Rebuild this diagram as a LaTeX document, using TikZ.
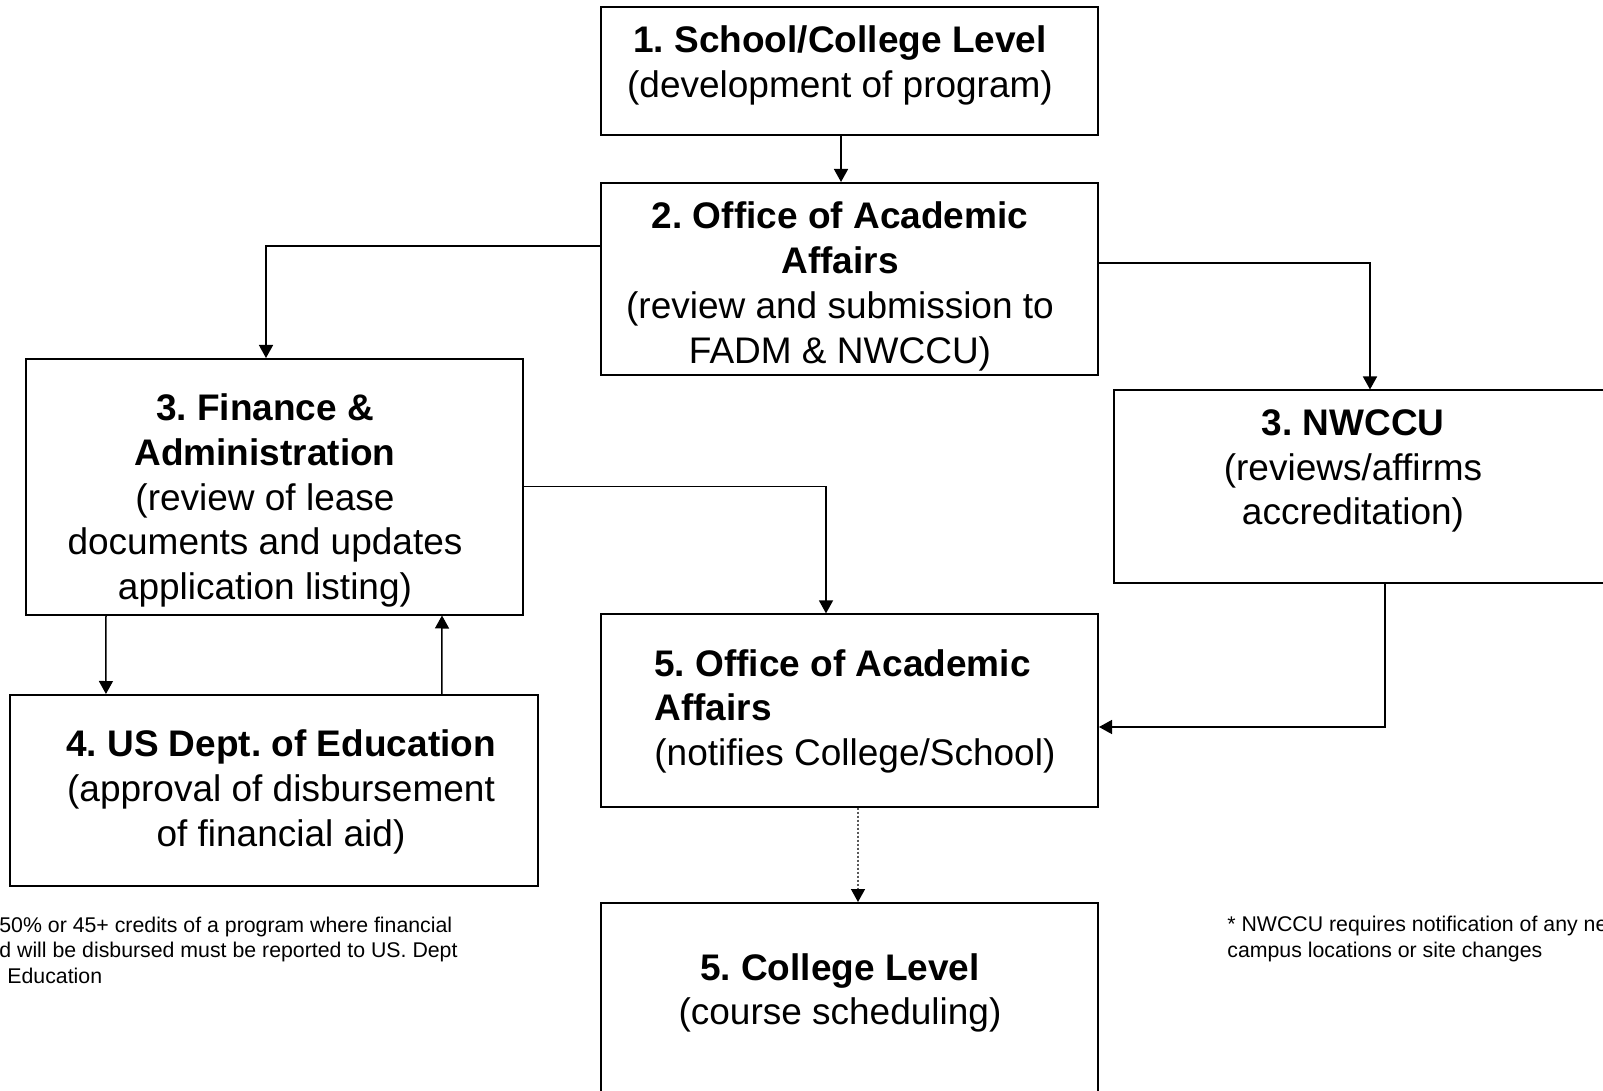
\documentclass[tikz,border=0pt]{standalone}
\usepackage{fontspec}
\setmainfont{Liberation Sans}
\usetikzlibrary{arrows.meta,calc}
\frenchspacing
\tikzset{
  box/.style={draw=black, line width=1pt, minimum width=248.5pt, inner sep=0pt, anchor=north west},
  maintext/.style={font=\fontsize{18.5pt}{22.4pt}\selectfont, align=center, inner sep=0pt},
  foot/.style={font=\fontsize{10.65pt}{12.8pt}\selectfont, align=left, inner sep=0pt, anchor=west},
  conn/.style={line width=0.75pt, -{Triangle[width=7pt,length=6.5pt,color=black]}},
  dotconn/.style={conn, draw=black!65, dash pattern=on 1pt off 1pt},
}
\begin{document}
\begin{tikzpicture}[x=0.5pt,y=-0.5pt]
\useasboundingbox (0,0) rectangle (1603,1091);
\clip (0,0) rectangle (1603,1091);
\fill[white] (0,0) rectangle (1603,1091);

% boxes
\node[box, minimum height=64pt] (b1) at (600,6) {};
\node[box, minimum height=96pt] (b2) at (600,182) {};
\node[box, minimum height=127.75pt] (fin) at (24.5,358) {};
\node[box, minimum width=260pt, minimum height=96.25pt] (nw) at (1112.5,389.5) {};
\node[box, minimum width=263.75pt, minimum height=95.5pt] (us) at (9.2,694) {};
\node[box, minimum height=96.1pt] (oaa) at (600,613.4) {};
\node[box, minimum height=110pt] (col) at (600,902) {};

% texts
\node[maintext] (t1) at (840,65.5) {\textbf{1. School/College Level}\\(development of program)};
\node[maintext] (t2) at (840,286.5) {\textbf{2. Office of Academic}\\\textbf{Affairs}\\(review and submission to\\FADM \& NWCCU)};
\node[maintext] (t3a) at (265,500.6) {\textbf{3. Finance \&}\\\textbf{Administration}\\(review of lease\\documents and updates\\application listing)};
\node[maintext] (t3b) at (1353,471) {\textbf{3. NWCCU}\\(reviews/affirms\\accreditation)};
\node[maintext] (t4) at (281,791.7) {\textbf{4. US Dept. of Education}\\(approval of disbursement\\of financial aid)};
\node[maintext, align=left, anchor=west] (t5a) at (654,711.3) {\textbf{5. Office of Academic}\\\textbf{Affairs}\\(notifies College/School)};
\node[maintext] (t5b) at (840,993) {\textbf{5. College Level}\\(course scheduling)};

% footnotes
\node[foot] (f1) at (-1,950) {50\% or 45+ credits of a program where financial\\d will be disbursed must be reported to US. Dept\\\hspace*{4pt}Education};
\node[foot] (f2) at (1227,939) {* NWCCU requires notification of any ne\\campus locations or site changes};

% connectors
\draw[conn] ([xshift=-4.25pt]b1.south) -- ([xshift=-4.25pt]b2.north);
\draw[conn] ([yshift=16.5pt]b2.west) -| ([xshift=-4pt]fin.north);
\draw[conn] ([yshift=8pt]b2.east) -| ([xshift=128.75pt]nw.north west);
\draw[conn] (fin.east) -| ([xshift=-11.75pt]oaa.north);
\draw[conn] ([xshift=-84pt]fin.south) -- ([xshift=-84pt]us.north);
\draw[conn] ([xshift=84pt]us.north) -- ([xshift=84pt]fin.south);
\draw[conn] ([xshift=136.25pt]nw.south west) |- ([yshift=-8.25pt]oaa.east);
\draw[dotconn] ([xshift=4.25pt]oaa.south) -- ([xshift=4.25pt]col.north);
\end{tikzpicture}
\end{document}
